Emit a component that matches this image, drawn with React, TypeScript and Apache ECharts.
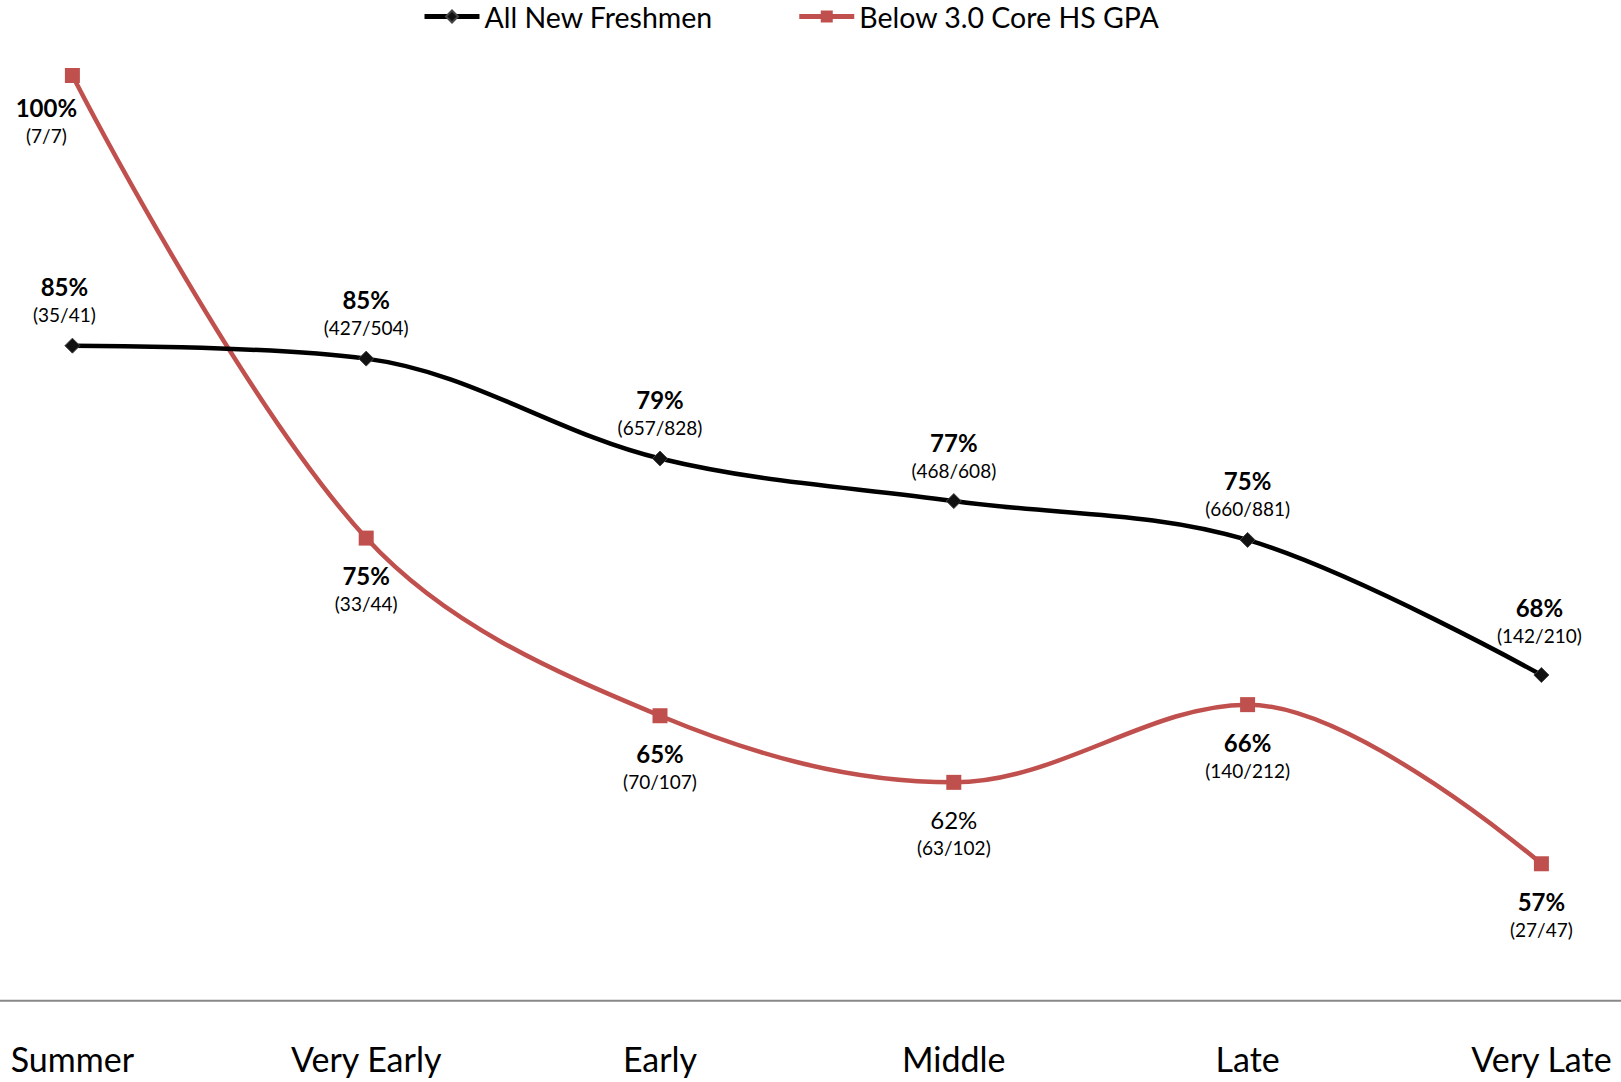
import React, { useEffect, useRef } from "react";
import * as echarts from "echarts";

const categories = ["Summer", "Very Early", "Early", "Middle", "Late", "Very Late"];
const allValues = [85.4, 84.7, 79.3, 77.0, 74.9, 67.6];
const allPct = ["85%", "85%", "79%", "77%", "75%", "68%"];
const allCounts = ["(35/41)", "(427/504)", "(657/828)", "(468/608)", "(660/881)", "(142/210)"];
const belowValues = [100, 75, 65.4, 61.8, 66.0, 57.4];
const belowPct = ["100%", "75%", "65%", "62%", "66%", "57%"];
const belowCounts = ["(7/7)", "(33/44)", "(70/107)", "(63/102)", "(140/212)", "(27/47)"];

const FONT = "Lato, 'Open Sans', sans-serif";

const rich = {
  a: { fontSize: 24, fontWeight: "bold", lineHeight: 28, color: "#000", fontFamily: FONT },
  n: { fontSize: 24, fontWeight: "normal", lineHeight: 28, color: "#000", fontFamily: FONT },
  b: { fontSize: 19, lineHeight: 28, color: "#000", fontFamily: FONT },
};

export default function App() {
  const ref = useRef<HTMLDivElement>(null);
  useEffect(() => {
    if (!ref.current) return;
    const chart = echarts.init(ref.current, null, { renderer: "svg" });
    const allData = allValues.map((v, i) => ({
      value: v,
      label: {
        show: true,
        position: "top",
        distance: 9,
        offset: i === 0 ? [-8, 0] : i === 5 ? [-2, -9] : [0, 0],
        formatter: `{a|${allPct[i]}}\n{b|${allCounts[i]}}`,
        rich,
      },
    }));
    const belowData = belowValues.map((v, i) => ({
      value: v,
      label: {
        show: true,
        position: "bottom",
        distance: 16,
        offset: i === 0 ? [-26, -6] : [0, 0],
        formatter: `{${i === 3 ? "n" : "a"}|${belowPct[i]}}\n{b|${belowCounts[i]}}`,
        rich,
      },
    }));
    const axisY = 1082 - 81.3;
    chart.setOption({
      animation: false,
      backgroundColor: "#fff",
      textStyle: { fontFamily: FONT },
      legend: {
        top: -3,
        left: 417,
        itemWidth: 55,
        itemHeight: 15,
        itemGap: 84,
        textStyle: { fontSize: 28.5, color: "#000", fontFamily: FONT },
        data: [
          { name: "All New Freshmen", lineStyle: { width: 5 } },
          { name: "Below 3.0 Core HS GPA", lineStyle: { width: 5 } },
        ],
      },
      grid: { left: 72.4, right: 79.6, top: 75.5, bottom: 81.3, containLabel: false },
      graphic: [
        {
          type: "line",
          shape: { x1: 0, y1: axisY, x2: 1621, y2: axisY },
          style: { stroke: "#888", lineWidth: 2 },
          z: 1,
        },
      ],
      xAxis: {
        type: "category",
        data: categories,
        boundaryGap: false,
        axisLine: { show: false },
        axisTick: { show: false },
        axisLabel: { fontSize: 34, color: "#000", margin: 41, fontFamily: FONT, interval: 0 },
        splitLine: { show: false },
      },
      yAxis: {
        type: "value",
        min: 50,
        max: 100,
        show: false,
        splitLine: { show: false },
      },
      series: [
        {
          name: "All New Freshmen",
          type: "line",
          data: allData,
          smooth: 0.35,
          clip: false,
          symbol: "diamond",
          symbolSize: 15,
          itemStyle: { color: "#111", borderColor: "#444", borderWidth: 1 },
          lineStyle: { color: "#000", width: 4.5 },
          z: 3,
        },
        {
          name: "Below 3.0 Core HS GPA",
          type: "line",
          data: belowData,
          smooth: 0.35,
          clip: false,
          symbol: "rect",
          symbolSize: 15,
          itemStyle: { color: "#C0504D" },
          lineStyle: { color: "#C0504D", width: 4.5 },
          z: 2,
        },
      ],
    });
    return () => chart.dispose();
  }, []);
  return (
    <div
      ref={ref}
      style={{ position: "absolute", left: 0, top: 0, width: 1621, height: 1082 }}
    />
  );
}
